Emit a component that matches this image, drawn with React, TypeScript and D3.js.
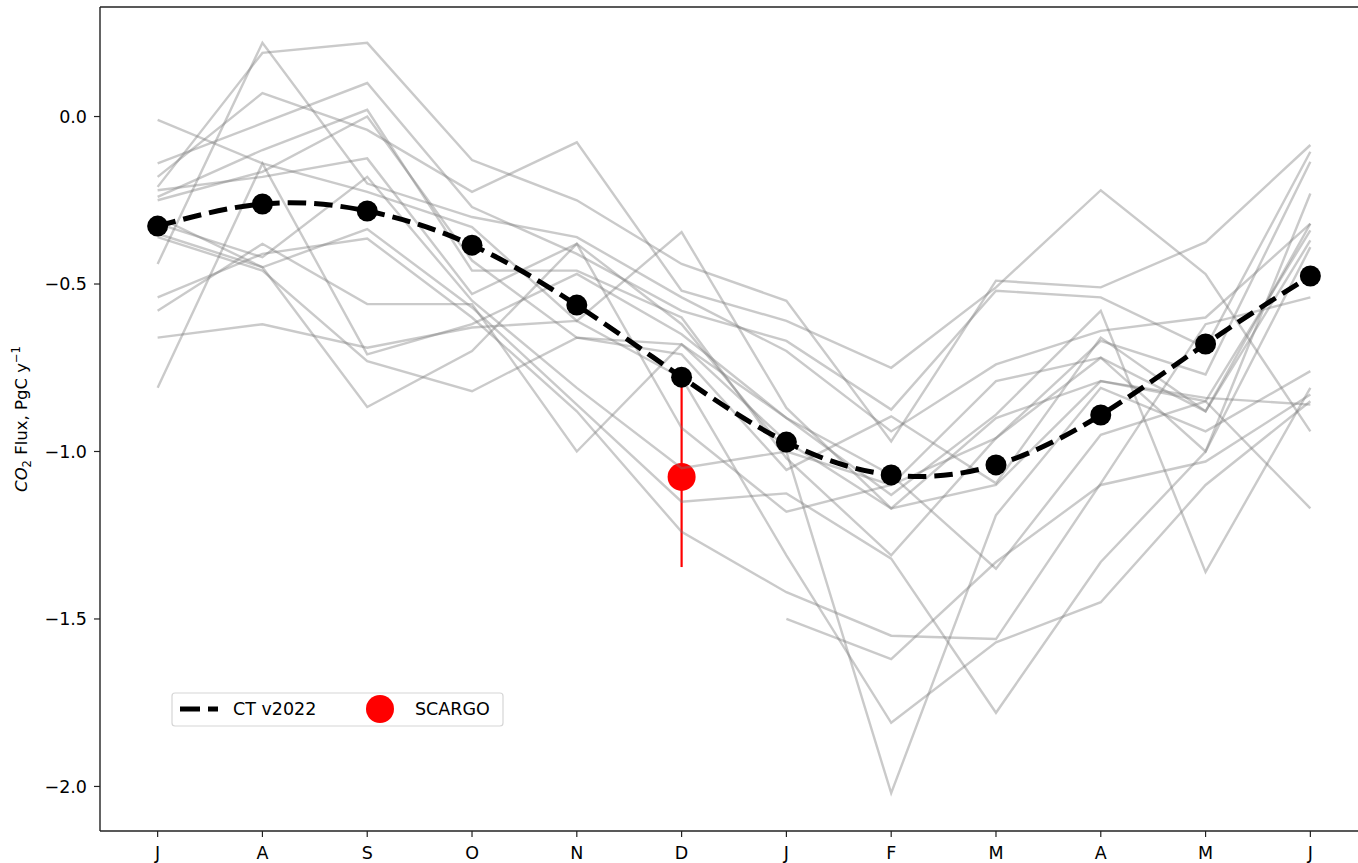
import * as d3 from 'd3';
import { useEffect, useRef } from 'react';

// month labels along x (July -> June)
const months = ['J', 'A', 'S', 'O', 'N', 'D', 'J', 'F', 'M', 'A', 'M', 'J'];
const yTicks = [0.0, -0.5, -1.0, -1.5, -2.0];

// CarbonTracker v2022 monthly mean flux
const ctV2022 = [-0.327, -0.261, -0.282, -0.384, -0.563, -0.778, -0.972, -1.07, -1.04, -0.891, -0.679, -0.476];

// SCARGO estimate (December) with its error
const scargoMonth = 5;
const scargoValue = -1.076;
const scargoError = 0.269;

// individual years (gray lines)
const years: (number | null)[][] = [
    [-0.44, 0.22, -0.2, -0.3, -0.36, -0.54, -0.7, -0.94, -0.74, -0.64, -0.6, -0.32],
    [-0.21, 0.19, 0.22, -0.13, -0.25, -0.44, -0.55, -0.97, -0.49, -0.51, -0.375, -0.085],
    [-0.18, 0.07, -0.04, -0.225, -0.077, -0.52, -0.61, -0.75, -0.51, -0.22, -0.47, -0.94],
    [-0.01, -0.14, -0.225, -0.33, -0.61, -0.345, -0.87, -1.17, -1.1, -0.79, -0.85, -0.34],
    [-0.14, -0.02, 0.1, -0.27, -0.41, -0.58, -0.67, -0.875, -0.52, -0.54, -0.69, -0.105],
    [-0.24, -0.1, 0.02, -0.46, -0.46, -0.6, -1.02, -1.31, -0.96, -0.67, -0.77, -0.135],
    [-0.25, -0.165, 0.0, -0.43, -0.66, -0.71, -1.055, -0.895, -1.095, -0.66, -0.88, -0.37],
    [-0.22, -0.18, -0.125, -0.53, -0.38, -0.93, -1.18, -1.1, -0.79, -0.72, -1.0, -0.39],
    [-0.32, -0.42, -0.18, -0.55, -0.81, -1.05, -1.0, -2.02, -1.19, -0.81, -0.94, -0.76],
    [-0.35, -0.45, -0.336, -0.57, -0.86, -1.15, -1.125, -1.32, -1.78, -1.33, -1.0, -0.23],
    [-0.54, -0.41, -0.364, -0.6, -0.88, -1.24, -1.42, -1.55, -1.56, -1.095, -0.62, -0.54],
    [-0.58, -0.38, -0.56, -0.56, -1.0, -0.68, -0.9, -1.13, -0.89, -0.58, -1.36, -0.81],
    [-0.66, -0.62, -0.69, -0.63, -0.61, -0.78, -1.31, -1.81, -1.57, -1.45, -1.1, -0.85],
    [-0.81, -0.14, -0.71, -0.62, -0.47, -0.65, -0.9, -1.07, -1.35, -0.95, -0.85, -1.17],
    [-0.36, -0.46, -0.73, -0.82, -0.66, -0.68, -0.97, -1.17, -0.9, -0.79, -0.84, -0.86],
    [-0.3, -0.45, -0.867, -0.7, -0.38, -0.62, -1.0, -1.1, -0.96, -0.72, -0.88, -0.32],
    [null, null, null, null, null, null, -1.5, -1.62, -1.33, -1.1, -1.03, -0.83],
];

const FONT = '"DejaVu Sans", sans-serif';

export default function App() {
    const ref = useRef<SVGSVGElement>(null);

    useEffect(() => {
        const width = 1358;
        const height = 863;
        const margin = { top: 7, left: 100, bottom: 831, right: 1368 };

        const svg = d3.select(ref.current).attr('width', width).attr('height', height);
        svg.selectAll('*').remove();

        const x = d3.scaleLinear().domain([-0.55, 11.55]).range([margin.left, margin.right]);
        const y = d3.scaleLinear().domain([-2.133, 0.327]).range([margin.bottom, margin.top]);

        svg.append('defs').append('clipPath').attr('id', 'plot')
            .append('rect')
            .attr('x', margin.left).attr('y', margin.top)
            .attr('width', margin.right - margin.left).attr('height', margin.bottom - margin.top);

        const plot = svg.append('g').attr('clip-path', 'url(#plot)');

        // SCARGO error bar + point (under the gray lines)
        plot.append('line')
            .attr('x1', x(scargoMonth)).attr('x2', x(scargoMonth))
            .attr('y1', y(scargoValue + scargoError)).attr('y2', y(scargoValue - scargoError))
            .attr('stroke', '#ff0000').attr('stroke-width', 2.2);
        plot.append('circle')
            .attr('cx', x(scargoMonth)).attr('cy', y(scargoValue)).attr('r', 14)
            .attr('fill', '#ff0000');

        // yearly lines
        const yearLine = d3.line<number | null>()
            .defined(d => d !== null)
            .x((d, i) => x(i))
            .y(d => y(d as number));

        plot.selectAll('.year')
            .data(years)
            .join('path')
            .attr('class', 'year')
            .attr('d', d => yearLine(d))
            .attr('fill', 'none')
            .attr('stroke', '#7a7a7a')
            .attr('stroke-opacity', 0.4)
            .attr('stroke-width', 2.4)
            .attr('stroke-linejoin', 'miter');

        // CT v2022 smooth dashed curve
        const ctLine = d3.line<number>()
            .x((d, i) => x(i))
            .y(d => y(d))
            .curve(d3.curveNatural);

        plot.append('path')
            .attr('d', ctLine(ctV2022))
            .attr('fill', 'none')
            .attr('stroke', '#000')
            .attr('stroke-width', 5)
            .attr('stroke-dasharray', '18.5,8');

        plot.selectAll('.ct-dot')
            .data(ctV2022)
            .join('circle')
            .attr('class', 'ct-dot')
            .attr('cx', (d, i) => x(i))
            .attr('cy', d => y(d))
            .attr('r', 10.5)
            .attr('fill', '#000');

        // spines
        const spine = '#222';
        svg.append('line').attr('x1', margin.left).attr('x2', margin.left)
            .attr('y1', margin.top).attr('y2', margin.bottom)
            .attr('stroke', spine).attr('stroke-width', 1.4);
        svg.append('line').attr('x1', margin.left).attr('x2', width)
            .attr('y1', margin.top).attr('y2', margin.top)
            .attr('stroke', spine).attr('stroke-width', 1.4);
        svg.append('line').attr('x1', margin.left).attr('x2', width)
            .attr('y1', margin.bottom).attr('y2', margin.bottom)
            .attr('stroke', spine).attr('stroke-width', 1.4);

        // x axis
        const xAxis = svg.append('g');
        months.forEach((m, i) => {
            xAxis.append('line')
                .attr('x1', x(i)).attr('x2', x(i))
                .attr('y1', margin.bottom).attr('y2', margin.bottom + 6)
                .attr('stroke', spine).attr('stroke-width', 1.2);
            xAxis.append('text')
                .attr('x', x(i)).attr('y', margin.bottom + 28)
                .attr('text-anchor', 'middle')
                .attr('font-family', FONT).attr('font-size', 17.5)
                .attr('fill', '#000')
                .text(m);
        });

        // y axis
        const yAxis = svg.append('g');
        yTicks.forEach(t => {
            yAxis.append('line')
                .attr('x1', margin.left - 6).attr('x2', margin.left)
                .attr('y1', y(t)).attr('y2', y(t))
                .attr('stroke', spine).attr('stroke-width', 1.2);
            yAxis.append('text')
                .attr('x', margin.left - 13).attr('y', y(t))
                .attr('dy', '0.36em')
                .attr('text-anchor', 'end')
                .attr('font-family', FONT).attr('font-size', 17.5)
                .attr('fill', '#000')
                .text(d3.format('.1f')(t).replace('-', '\u2212'));
        });

        // y label
        const label = svg.append('text')
            .attr('transform', `translate(27, ${(margin.top + margin.bottom) / 2}) rotate(-90)`)
            .attr('text-anchor', 'middle')
            .attr('font-family', FONT).attr('font-size', 16.5)
            .attr('fill', '#000');
        label.append('tspan').attr('font-style', 'italic').text('CO');
        label.append('tspan').attr('font-size', 11.5).attr('dy', 4).text('2');
        label.append('tspan').attr('dy', -4).text(' Flux, PgC y');
        label.append('tspan').attr('font-size', 11.5).attr('dy', -7).text('\u22121');

        // legend
        const legend = svg.append('g');
        legend.append('rect')
            .attr('x', 172).attr('y', 693).attr('width', 331).attr('height', 33)
            .attr('rx', 3)
            .attr('fill', '#fff').attr('fill-opacity', 0.8)
            .attr('stroke', '#d6d6d6').attr('stroke-width', 1.2);
        legend.append('line')
            .attr('x1', 180).attr('x2', 218).attr('y1', 709).attr('y2', 709)
            .attr('stroke', '#000').attr('stroke-width', 5)
            .attr('stroke-dasharray', '20,8');
        legend.append('text')
            .attr('x', 233).attr('y', 709).attr('dy', '0.36em')
            .attr('font-family', FONT).attr('font-size', 17.5)
            .text('CT v2022');
        legend.append('circle')
            .attr('cx', 380).attr('cy', 709).attr('r', 14).attr('fill', '#ff0000');
        legend.append('text')
            .attr('x', 415).attr('y', 709).attr('dy', '0.36em')
            .attr('font-family', FONT).attr('font-size', 17.5)
            .text('SCARGO');
    }, []);

    return (
        <div style={{ position: 'fixed', left: 0, top: 0, background: '#fff' }}>
            <svg ref={ref} style={{ display: 'block' }}></svg>
        </div>
    );
}
